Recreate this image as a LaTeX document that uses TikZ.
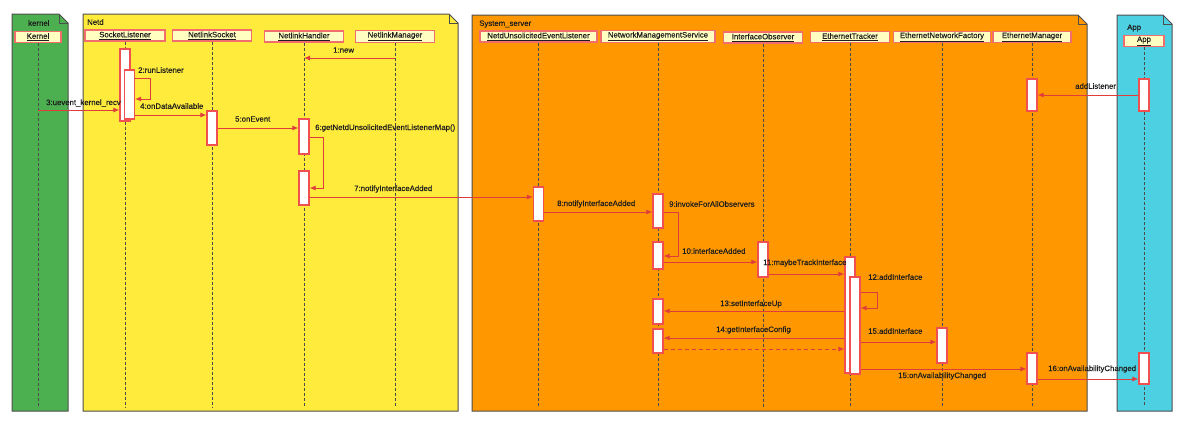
\documentclass[tikz,border=0pt]{standalone}
\usepackage{fontspec}
\setmainfont{Liberation Sans}[FakeBold=0.35]
\usetikzlibrary{arrows.meta}
\newcommand\seqfont{\fontsize{7.8}{9}\selectfont}
\definecolor{kernelgreen}{HTML}{4CAF50}
\definecolor{netdyellow}{HTML}{FFEB3B}
\definecolor{sysorange}{HTML}{FF9800}
\definecolor{appcyan}{HTML}{4DD0E1}
\definecolor{framegray}{HTML}{4D4D4D}
\definecolor{headfill}{HTML}{FFFFC2}
\definecolor{headred}{HTML}{F26D6D}
\definecolor{barred}{HTML}{F0504F}
\definecolor{msgred}{HTML}{E03C3C}
\definecolor{lifegray}{HTML}{4A4A4A}
\definecolor{textgray}{HTML}{1E1E1E}
\tikzset{
  frame/.style={draw=framegray, line width=1pt},
  head/.style={draw=headred, fill=headfill, line width=1.1pt, minimum height=11pt, inner sep=1pt, font=\seqfont, text=textgray},
  life/.style={draw=lifegray, line width=0.8pt, dash pattern=on 3pt off 2pt},
  actbar/.style={draw=barred, fill=white, line width=1.1pt, minimum width=10pt, inner sep=0pt},
  msg/.style={->, draw=msgred, line width=1pt},
  reply/.style={msg, dash pattern=on 4pt off 3pt},
  lbl/.style={font=\seqfont, text=textgray, inner sep=0pt, anchor=west}
}
\begin{document}
\begin{tikzpicture}[>={Latex[length=6pt,width=5pt]}, x=1pt, y=-1pt]
\useasboundingbox (0,0) rectangle (1184,426);

% frames
\filldraw[frame, fill=kernelgreen] (12,14) -- (59,14) -- (68,23) -- (68,411) -- (12,411) -- cycle;
\draw[frame] (59,14) -- (59,23) -- (68,23);
\filldraw[frame, fill=netdyellow] (83,14) -- (449,14) -- (458,23) -- (458,411) -- (83,411) -- cycle;
\draw[frame] (449,14) -- (449,23) -- (458,23);
\filldraw[frame, fill=sysorange] (472,15) -- (1078,15) -- (1087,24) -- (1087,411) -- (472,411) -- cycle;
\draw[frame] (1078,15) -- (1078,24) -- (1087,24);
\filldraw[frame, fill=appcyan] (1117,15) -- (1163,15) -- (1172,24) -- (1172,411) -- (1117,411) -- cycle;
\draw[frame] (1163,15) -- (1163,24) -- (1172,24);
\node[lbl] (kerneltitle) at (28,23) {kernel};
\node[lbl] (netdtitle) at (87,22) {Netd};
\node[lbl] (systitle) at (479,24) {System\_server};
\node[lbl] (apptitle) at (1127,28) {App};

% lifeline heads
\node[head, minimum width=46pt] (kern) at (38,37) {\underline{Kernel}};
\node[head, minimum width=80pt] (sockl) at (125,35.5) {\underline{SocketListener}};
\node[head, minimum width=79pt] (nsock) at (212,35.5) {\underline{NetlinkSocket}};
\node[head, minimum width=79pt] (nhand) at (304,36.5) {\underline{NetlinkHandler}};
\node[head, minimum width=79pt] (nmgr) at (395,36.5) {\underline{NetlinkManager}};
\node[head, minimum width=117pt] (nuel) at (538.5,36.5) {\underline{NetdUnsolicitedEventListener}};
\node[head, minimum width=114pt] (nms) at (658,36.5) {\underline{NetworkManagementService}};
\node[head, minimum width=79pt] (iobs) at (763,37.5) {\underline{InterfaceObserver}};
\node[head, minimum width=79pt] (etrk) at (850,37) {\underline{EthernetTracker}};
\node[head, minimum width=97pt] (enf) at (942,37) {\underline{EthernetNetworkFactory}};
\node[head, minimum width=78pt] (emgr) at (1032,37) {\underline{EthernetManager}};
\node[head, minimum width=40pt, minimum height=10pt] (app) at (1144,41) {\underline{App}};

\draw[life] (kern.south) -- (kern |- 0,407);
\draw[life] (sockl.south) -- (sockl |- 0,407);
\draw[life] (nsock.south) -- (nsock |- 0,407);
\draw[life] (nhand.south) -- (nhand |- 0,407);
\draw[life] (nmgr.south) -- (nmgr |- 0,407);
\draw[life] (nuel.south) -- (nuel |- 0,407);
\draw[life] (nms.south) -- (nms |- 0,407);
\draw[life] (iobs.south) -- (iobs |- 0,407);
\draw[life] (etrk.south) -- (etrk |- 0,407);
\draw[life] (enf.south) -- (enf |- 0,407);
\draw[life] (emgr.south) -- (emgr |- 0,407);
\draw[life] (app.south) -- (app |- 0,407);

% activation bars
\node[actbar, minimum height=72pt] (sl1) at (125,85) {};
\node[actbar, minimum height=49pt] (sl2) at (129.5,94.5) {};
\node[actbar, minimum height=34pt] (ns1) at (212,128) {};
\node[actbar, minimum height=35pt] (nh1) at (304,136.5) {};
\node[actbar, minimum height=34pt] (nh2) at (304,188) {};
\node[actbar, minimum height=34pt] (nu1) at (538.5,204) {};
\node[actbar, minimum height=34pt] (nm1) at (658,211) {};
\node[actbar, minimum height=27pt] (nm2) at (658,255.5) {};
\node[actbar, minimum height=25pt] (nm3) at (658,311.5) {};
\node[actbar, minimum height=24pt] (nm4) at (658,341) {};
\node[actbar, minimum height=35pt] (io1) at (763,259.5) {};
\node[actbar, minimum height=116pt] (et1) at (850,315) {};
\node[actbar, minimum height=97pt] (et2) at (855,325.5) {};
\node[actbar, minimum height=35pt] (nf1) at (942,345.5) {};
\node[actbar, minimum height=32pt] (em1) at (1032,95) {};
\node[actbar, minimum height=31pt] (em2) at (1032,368.5) {};
\node[actbar, minimum height=32pt] (ap1) at (1144,95) {};
\node[actbar, minimum height=31pt] (ap2) at (1144,368.5) {};

% messages
\draw[msg] (nmgr |- 0,58) -- (nhand |- 0,58);
\node[lbl] (m1) at (333,50) {1:new};
\draw[msg] (sl2.east |- 0,78) -- ++(15,0) |- (sl2.east |- 0,99);
\node[lbl] (m2) at (138,70) {2:runListener};
\draw[msg] (kern |- 0,110) -- (sl1.west |- 0,110);
\node[lbl] (m3) at (46,103) {3:uevent\_kernel\_recv};
\draw[msg] (sl2.east |- 0,115) -- (ns1.west |- 0,115);
\node[lbl] (m4) at (140,106) {4:onDataAvailable};
\draw[msg] (ns1.east |- 0,128) -- (nh1.west |- 0,128);
\node[lbl] (m5) at (235,119) {5:onEvent};
\draw[msg] (nh1.east |- 0,137) -- ++(14,0) |- (nh2.east |- 0,188);
\node[lbl] (m6) at (315,128) {6:getNetdUnsolicitedEventListenerMap()};
\draw[msg] (nh2.east |- 0,197) -- (nu1.west |- 0,197);
\node[lbl] (m7) at (354,189) {7:notifyInterfaceAdded};
\draw[msg] (nu1.east |- 0,212) -- (nm1.west |- 0,212);
\node[lbl] (m8) at (557,204) {8:notifyInterfaceAdded};
\draw[msg] (nm1.east |- 0,212) -- ++(15,0) |- (nm2.east |- 0,256);
\node[lbl] (m9) at (669,204) {9:invokeForAllObservers};
\draw[msg] (nm2.east |- 0,262) -- (io1.west |- 0,262);
\node[lbl] (m10) at (682,251) {10:interfaceAdded};
\draw[msg] (io1.east |- 0,274) -- (et1.west |- 0,274);
\node[lbl] (m11) at (763,263) {11:maybeTrackInterface};
\draw[msg] (et2.east |- 0,292) -- ++(17,0) |- (et2.east |- 0,308);
\node[lbl] (m12) at (868,277) {12:addInterface};
\draw[msg] (et1.west |- 0,311) -- (nm3.east |- 0,311);
\node[lbl] (m13) at (720,304) {13:setInterfaceUp};
\draw[msg] (et1.west |- 0,338) -- (nm4.east |- 0,338);
\node[lbl] (m14) at (716,330) {14:getInterfaceConfig};
\draw[reply] (nm4.east |- 0,349) -- (et1.west |- 0,349);
\draw[msg] (et2.east |- 0,342) -- (nf1.west |- 0,342);
\node[lbl] (m15) at (868,331) {15:addInterface};
\draw[msg] (et2.east |- 0,369) -- (em2.west |- 0,369);
\node[lbl] (m15b) at (898,376) {15:onAvailabilityChanged};
\draw[msg] (em2.east |- 0,379) -- (ap2.west |- 0,379);
\node[lbl] (m16) at (1048,369) {16:onAvailabilityChanged};
\draw[msg] (ap1.west |- 0,95) -- (em1.east |- 0,95);
\node[lbl] (madd) at (1075,86) {addListener};

\end{tikzpicture}
\end{document}
